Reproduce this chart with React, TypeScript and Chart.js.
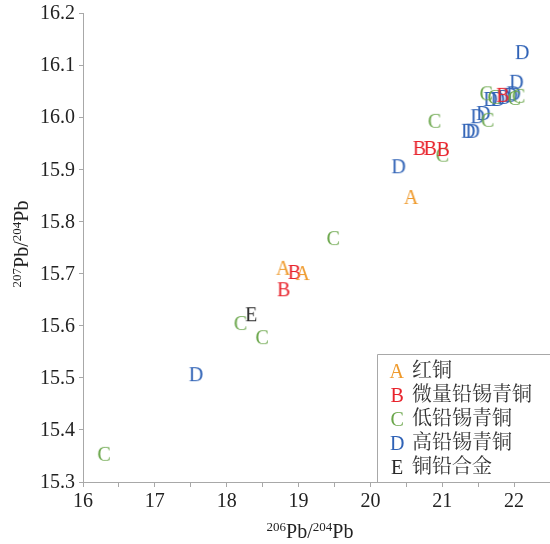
import React, { useEffect, useRef } from "react";
import { Chart, registerables } from "chart.js";

Chart.register(...registerables);

// 206Pb/204Pb (x) and 207Pb/204Pb (y) per sample group
const groupLetters = ["A", "B", "C", "D", "E"];
const groupNames = ["红铜", "微量铅锡青铜", "低铅锡青铜", "高铅锡青铜", "铜铅合金"];
const groupColors = ["#ef9a2c", "#e8232c", "#6aa64a", "#2f62b6", "#2a2a2a"];

const redCopperX = [18.79, 19.06, 20.57];
const redCopperY = [15.711, 15.701, 15.847];

const traceLeadTinX = [18.94, 18.79, 20.68, 20.83, 21.01, 21.84];
const traceLeadTinY = [15.703, 15.670, 15.941, 15.941, 15.939, 16.043];

const lowLeadTinX = [16.29, 18.19, 18.49, 19.48, 20.89, 21.0, 21.63, 21.61, 21.72, 22.0, 22.06];
const lowLeadTinY = [15.354, 15.605, 15.578, 15.768, 15.993, 15.928, 15.995, 16.046, 16.039, 16.037, 16.041];

const highLeadTinX = [17.57, 20.39, 21.36, 21.42, 21.49, 21.57, 21.67, 21.77, 21.86, 21.95, 21.99, 22.03, 22.11];
const highLeadTinY = [15.507, 15.906, 15.974, 15.974, 16.002, 16.008, 16.035, 16.035, 16.039, 16.043, 16.046, 16.068, 16.125];

const copperLeadX = [18.34];
const copperLeadY = [15.622];

const seriesX = [redCopperX, traceLeadTinX, lowLeadTinX, highLeadTinX, copperLeadX];
const seriesY = [redCopperY, traceLeadTinY, lowLeadTinY, highLeadTinY, copperLeadY];

const xMin = 16;
const xMax = 22.5;
const yMin = 15.3;
const yMax = 16.2;

const SERIF = "'Liberation Serif', 'Noto Serif CJK SC', serif";
const AXIS_GRAY = "#a8a8a8";
const TEXT_DARK = "#222222";

// Render a letter glyph into a small canvas so it can serve as a point style,
// with the ink box centred on the data point.
function letterGlyph(letter: string, color: string, size = 20): HTMLCanvasElement {
  const c = document.createElement("canvas");
  const w = 26;
  const h = 26;
  c.width = w;
  c.height = h;
  const ctx = c.getContext("2d")!;
  ctx.font = `${size}px ${SERIF}`;
  ctx.textBaseline = "alphabetic";
  ctx.textAlign = "left";
  const m = ctx.measureText(letter);
  const inkW = m.actualBoundingBoxLeft + m.actualBoundingBoxRight;
  const inkH = m.actualBoundingBoxAscent + m.actualBoundingBoxDescent;
  const x = (w - inkW) / 2 + m.actualBoundingBoxLeft;
  const y = (h - inkH) / 2 + m.actualBoundingBoxAscent;
  ctx.fillStyle = color;
  ctx.fillText(letter, x, y);
  return c;
}

// Draws "NNN Pb/ NNN Pb" with raised mass numbers on the local baseline.
function drawIsotopeRatio(ctx: CanvasRenderingContext2D, top: string, bottom: string, cx: number) {
  const big = `20px ${SERIF}`;
  const small = `13px ${SERIF}`;
  const parts: Array<[string, string, number]> = [
    [top, small, -7],
    ["Pb/", big, 0],
    [bottom, small, -7],
    ["Pb", big, 0],
  ];
  let total = 0;
  const widths = parts.map(([t, f]) => {
    ctx.font = f;
    const wd = ctx.measureText(t).width;
    total += wd;
    return wd;
  });
  let x = cx - total / 2;
  parts.forEach(([t, f, dy], i) => {
    ctx.font = f;
    ctx.fillText(t, x, dy);
    x += widths[i];
  });
}

const axisTitlesPlugin = {
  id: "axisTitles",
  afterDraw(chart: any) {
    const { ctx } = chart;
    ctx.save();
    ctx.fillStyle = TEXT_DARK;
    ctx.textAlign = "left";
    ctx.textBaseline = "alphabetic";
    // x-axis title
    ctx.save();
    ctx.translate(0, 538);
    drawIsotopeRatio(ctx, "206", "204", 310);
    ctx.restore();
    // y-axis title (rotated)
    ctx.save();
    ctx.translate(28, 244);
    ctx.rotate(-Math.PI / 2);
    drawIsotopeRatio(ctx, "207", "204", 0);
    ctx.restore();
    ctx.restore();
  },
};

const boxedLegendPlugin = {
  id: "boxedLegend",
  afterDraw(chart: any) {
    const { ctx, chartArea } = chart;
    const left = 377.5;
    const top = 354.5;
    const right = chart.width + 1;
    const bottom = chartArea.bottom;
    ctx.save();
    ctx.fillStyle = "#ffffff";
    ctx.fillRect(left, top, right - left, bottom - top);
    ctx.strokeStyle = AXIS_GRAY;
    ctx.lineWidth = 1;
    ctx.beginPath();
    ctx.moveTo(left, bottom);
    ctx.lineTo(left, top);
    ctx.lineTo(right, top);
    ctx.stroke();
    chart.data.datasets.forEach((ds: any, i: number) => {
      const rowY = 371 + i * 24;
      const img = ds.pointStyle as HTMLCanvasElement;
      ctx.drawImage(img, 397 - img.width / 2, rowY - img.height / 2);
      ctx.fillStyle = "#333333";
      ctx.font = `20px ${SERIF}`;
      ctx.textBaseline = "middle";
      ctx.textAlign = "left";
      ctx.fillText(ds.label, 412, rowY + 1);
    });
    ctx.restore();
  },
};

export default function App() {
  const canvasRef = useRef<HTMLCanvasElement | null>(null);

  useEffect(() => {
    const canvas = canvasRef.current;
    if (!canvas) return;

    const datasets = groupLetters.map((letter, i) => ({
      label: groupNames[i],
      data: seriesX[i].map((x, k) => ({ x, y: seriesY[i][k] })),
      pointStyle: letterGlyph(letter, groupColors[i]),
      pointRadius: 10,
      pointHoverRadius: 10,
      backgroundColor: groupColors[i],
      borderColor: groupColors[i],
      showLine: false,
      clip: false as any,
    }));

    const chart = new Chart(canvas, {
      type: "scatter",
      data: { datasets },
      plugins: [axisTitlesPlugin, boxedLegendPlugin],
      options: {
        animation: false,
        responsive: false,
        maintainAspectRatio: false,
        layout: { autoPadding: false, padding: { left: 0, top: 13, right: 0, bottom: 0 } },
        plugins: {
          legend: { display: false },
          tooltip: { enabled: false },
          title: { display: false },
        },
        scales: {
          x: {
            type: "linear",
            min: xMin,
            max: xMax,
            afterFit: (scale: any) => {
              scale.height = 62;
              scale.paddingRight = 0;
              scale.paddingLeft = 0;
            },
            border: { display: true, color: AXIS_GRAY, width: 1 },
            grid: {
              display: true,
              drawOnChartArea: false,
              drawTicks: true,
              tickLength: 5,
              color: AXIS_GRAY,
            },
            ticks: {
              stepSize: 0.5,
              autoSkip: false,
              maxRotation: 0,
              padding: 3,
              color: TEXT_DARK,
              font: { family: SERIF, size: 20 },
              callback: (v: any) => (Number.isInteger(Number(v)) ? String(v) : ""),
            },
          },
          y: {
            type: "linear",
            min: yMin,
            max: yMax,
            afterFit: (scale: any) => {
              scale.width = 83;
              scale.paddingTop = 0;
              scale.paddingBottom = 0;
            },
            border: { display: true, color: AXIS_GRAY, width: 1 },
            grid: {
              display: true,
              drawOnChartArea: false,
              drawTicks: true,
              tickLength: 4,
              color: AXIS_GRAY,
            },
            ticks: {
              stepSize: 0.1,
              autoSkip: false,
              padding: 4,
              labelOffset: 1,
              color: TEXT_DARK,
              font: { family: SERIF, size: 20 },
              callback: (v: any) => Number(v).toFixed(1),
            },
          },
        },
      },
    });

    return () => {
      chart.destroy();
    };
  }, []);

  return (
    <div style={{ position: "fixed", left: 0, top: 0, width: 550, height: 544, background: "#fff" }}>
      <canvas ref={canvasRef} width={550} height={544} style={{ display: "block" }} />
    </div>
  );
}
